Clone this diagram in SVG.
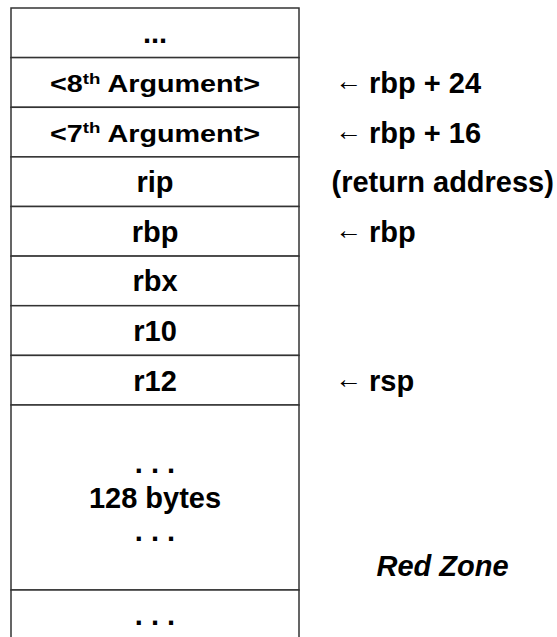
<svg xmlns="http://www.w3.org/2000/svg" width="557" height="637" viewBox="0 0 557 637">
  <style>
    .cell { fill: #ffffff; stroke: #333333; stroke-width: 1.5; }
    .t { font-family: "Liberation Sans", Arial, sans-serif; font-weight: bold; font-size: 29px; fill: #000000; }
    .c { text-anchor: middle; }
    .arg { font-size: 23px; }
    .sup { font-size: 15px; }
    .arr { font-family: "Liberation Sans", "DejaVu Sans", sans-serif; font-weight: normal; font-size: 27px; fill: #000000; }
    .it { font-style: italic; }
  </style>
  <rect width="557" height="637" fill="#ffffff"/>
  <g id="stack">
    <g id="cell-top">
      <rect class="cell" x="11" y="8" width="288" height="49.6"/>
      <text class="t c" x="155" y="43">...</text>
    </g>
    <g id="cell-arg8">
      <rect class="cell" x="11" y="57.6" width="288" height="49.7"/>
      <text class="t c arg" transform="translate(155 92) scale(1.25 1)">&lt;8<tspan class="sup" dy="-8.5">th</tspan><tspan dy="8.5"> Argument&gt;</tspan></text>
    </g>
    <g id="cell-arg7">
      <rect class="cell" x="11" y="107.3" width="288" height="49.6"/>
      <text class="t c arg" transform="translate(155 141.6) scale(1.25 1)">&lt;7<tspan class="sup" dy="-8.5">th</tspan><tspan dy="8.5"> Argument&gt;</tspan></text>
    </g>
    <g id="cell-rip">
      <rect class="cell" x="11" y="156.9" width="288" height="49.6"/>
      <text class="t c" x="155" y="192.2">rip</text>
    </g>
    <g id="cell-rbp">
      <rect class="cell" x="11" y="206.5" width="288" height="49.6"/>
      <text class="t c" x="155" y="241.8">rbp</text>
    </g>
    <g id="cell-rbx">
      <rect class="cell" x="11" y="256.1" width="288" height="49.6"/>
      <text class="t c" x="155" y="291.4">rbx</text>
    </g>
    <g id="cell-r10">
      <rect class="cell" x="11" y="305.7" width="288" height="49.7"/>
      <text class="t c" x="155" y="341">r10</text>
    </g>
    <g id="cell-r12">
      <rect class="cell" x="11" y="355.4" width="288" height="49.6"/>
      <text class="t c" x="155" y="390.7">r12</text>
    </g>
    <g id="cell-redzone">
      <rect class="cell" x="11" y="405" width="288" height="185"/>
      <text class="t c" x="155" y="473">. . .</text>
      <text class="t c" x="155" y="508">128 bytes</text>
      <text class="t c" x="155" y="541">. . .</text>
    </g>
    <g id="cell-bottom">
      <path class="cell" d="M11 640 V590 H299 V640"/>
      <text class="t c" x="155" y="625">. . .</text>
    </g>
  </g>
  <g id="labels">
    <g id="label-rbp24">
      <text class="arr" x="335" y="90">←</text>
      <text class="t" x="369" y="93">rbp + 24</text>
    </g>
    <g id="label-rbp16">
      <text class="arr" x="335" y="139.6">←</text>
      <text class="t" x="369" y="142.6">rbp + 16</text>
    </g>
    <g id="label-ret">
      <text class="t" x="331.5" y="192.2">(return address)</text>
    </g>
    <g id="label-rbp">
      <text class="arr" x="335" y="238.8">←</text>
      <text class="t" x="369" y="241.8">rbp</text>
    </g>
    <g id="label-rsp">
      <text class="arr" x="335" y="387.7">←</text>
      <text class="t" x="369" y="390.7">rsp</text>
    </g>
    <g id="label-redzone">
      <text class="t it" x="376.5" y="576">Red Zone</text>
    </g>
  </g>
</svg>
